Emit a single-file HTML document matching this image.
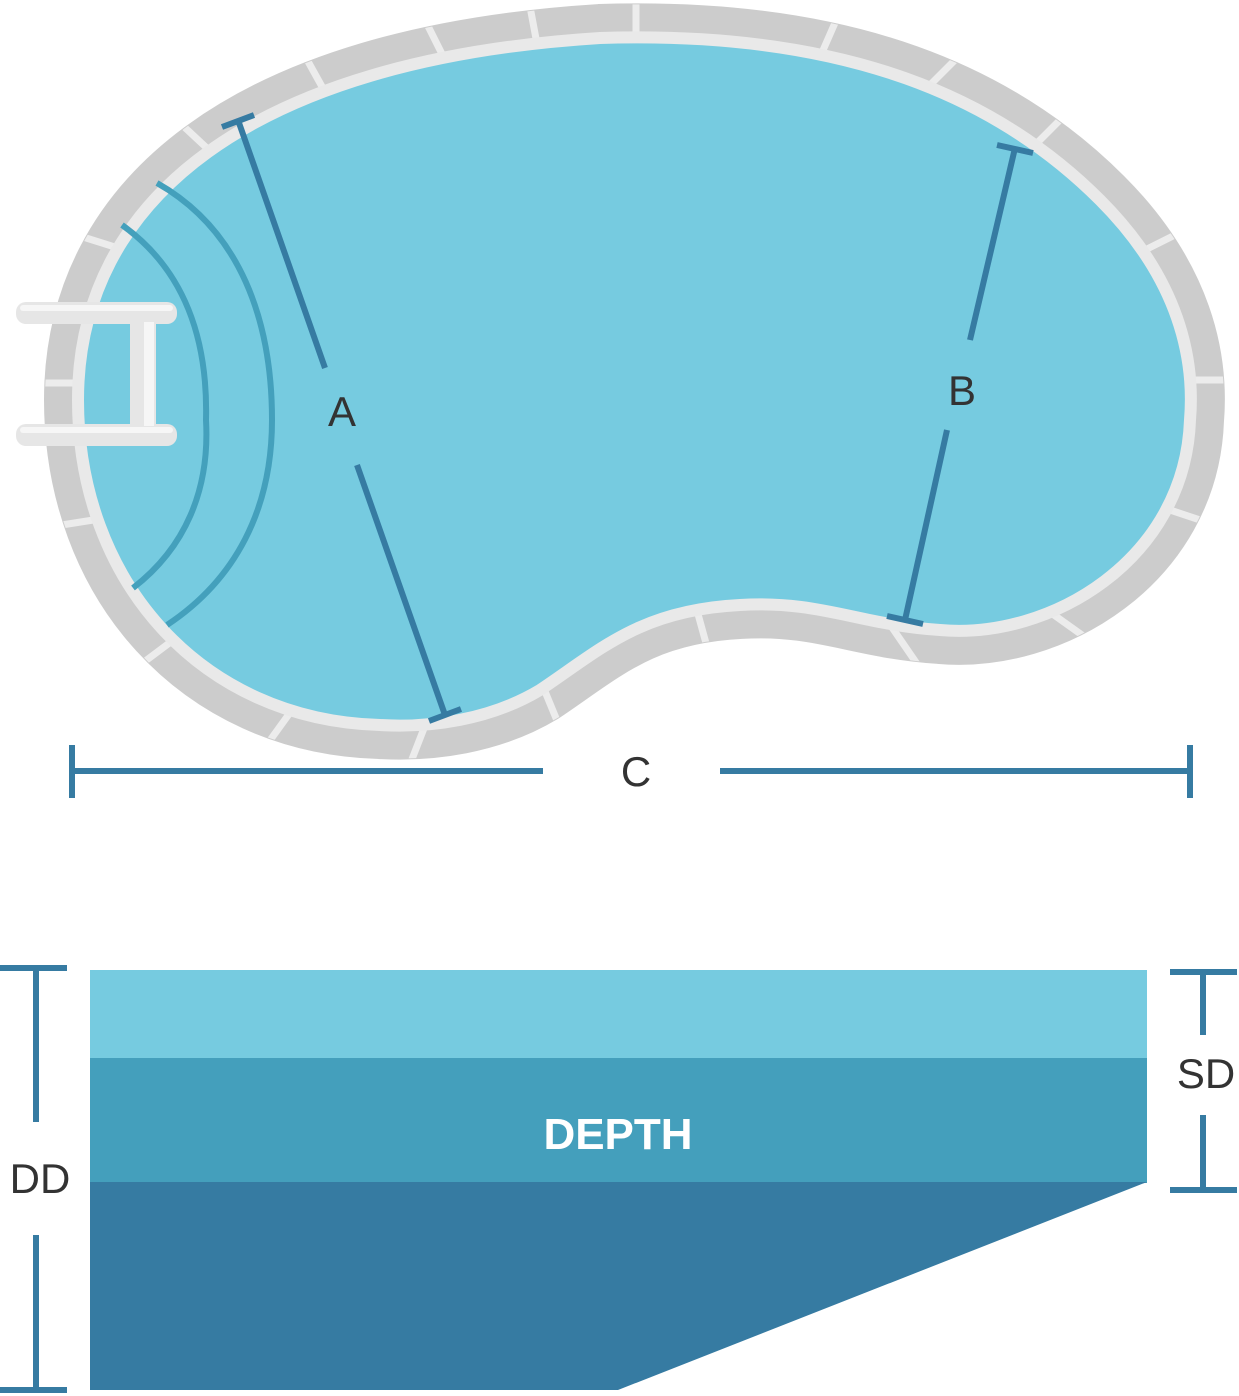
<!DOCTYPE html>
<html><head><meta charset="utf-8"><style>html,body{margin:0;padding:0;background:#fff}svg{display:block}</style></head><body>
<svg width="1239" height="1396" viewBox="0 0 1239 1396" xmlns="http://www.w3.org/2000/svg">
<defs>
<path id="pool" d="M 78 400 C 78 200, 250 60, 600 38 C 850 30, 1000 100, 1100 200 C 1180 280, 1195 360, 1190 420 C 1185 560, 1050 640, 940 630 C 860 625, 820 600, 740 605 C 640 610, 600 650, 540 690 C 490 720, 430 728, 380 725 C 200 720, 78 580, 78 400 Z"/>
<mask id="band" maskUnits="userSpaceOnUse" x="0" y="0" width="1239" height="1396">
<use href="#pool" fill="none" stroke="#fff" stroke-width="66"/>
</mask>
</defs>
<use href="#pool" fill="none" stroke="#cccccc" stroke-width="68"/>
<g stroke="#ececec" stroke-width="7" mask="url(#band)">
<line x1="410" y1="-10" x2="445" y2="60"/><line x1="525" y1="-20" x2="540" y2="60"/><line x1="636" y1="-20" x2="636" y2="60"/>
<line x1="845" y1="0" x2="810" y2="80"/><line x1="965" y1="50" x2="900" y2="115"/><line x1="1070" y1="110" x2="1005" y2="175"/>
<line x1="1195" y1="225" x2="1105" y2="270"/><line x1="1239" y1="380" x2="1160" y2="380"/><line x1="1230" y1="530" x2="1140" y2="500"/>
<line x1="1110" y1="655" x2="1040" y2="605"/><line x1="935" y1="690" x2="880" y2="610"/><line x1="712" y1="665" x2="690" y2="585"/>
<line x1="565" y1="740" x2="530" y2="655"/><line x1="400" y1="790" x2="435" y2="700"/><line x1="245" y1="775" x2="310" y2="685"/>
<line x1="120" y1="680" x2="200" y2="620"/><line x1="30" y1="530" x2="125" y2="515"/><line x1="10" y1="383" x2="110" y2="383"/>
<line x1="45" y1="225" x2="140" y2="255"/><line x1="150" y1="95" x2="225" y2="165"/><line x1="285" y1="20" x2="335" y2="110"/>
</g>
<use href="#pool" fill="#76cbe0"/>
<use href="#pool" fill="none" stroke="#e9e9e9" stroke-width="12"/>
<g fill="none" stroke="#44a0bc" stroke-width="6">
<path d="M 122 225 C 185 270, 208 340, 206 420 C 210 490, 185 548, 133 588"/>
<path d="M 157 183 C 240 230, 272 320, 272 420 C 272 510, 235 580, 167 625"/>
</g>
<rect x="16" y="302" width="161" height="22" rx="10" fill="#e6e6e6"/>
<rect x="16" y="424" width="161" height="22" rx="10" fill="#e6e6e6"/>
<rect x="130" y="322" width="26" height="104" fill="#e6e6e6"/>
<rect x="144" y="322" width="10" height="104" fill="#f6f6f6"/>
<rect x="20" y="305" width="153" height="6" rx="3" fill="#f6f6f6"/>
<rect x="20" y="427" width="153" height="6" rx="3" fill="#f6f6f6"/>
<g stroke="#367ba2" stroke-width="6" fill="none">
<line x1="238" y1="120" x2="325" y2="368"/><line x1="357" y1="465" x2="445" y2="715"/>
<line x1="222" y1="127" x2="254" y2="115"/><line x1="429" y1="721" x2="461" y2="709"/>
<line x1="1015" y1="148" x2="970" y2="340"/><line x1="947" y1="430" x2="905" y2="620"/>
<line x1="997" y1="145" x2="1033" y2="153"/><line x1="887" y1="616" x2="923" y2="624"/>
<line x1="72" y1="771" x2="543" y2="771"/><line x1="720" y1="771" x2="1190" y2="771"/>
<line x1="72" y1="745" x2="72" y2="798"/><line x1="1190" y1="745" x2="1190" y2="798"/>
<line x1="36" y1="968" x2="36" y2="1122"/><line x1="36" y1="1235" x2="36" y2="1390"/>
<line x1="0" y1="968" x2="67" y2="968"/><line x1="0" y1="1390" x2="67" y2="1390"/>
<line x1="1170" y1="972" x2="1237" y2="972"/><line x1="1170" y1="1190" x2="1237" y2="1190"/>
<line x1="1203" y1="972" x2="1203" y2="1035"/><line x1="1203" y1="1115" x2="1203" y2="1190"/>
</g>
<g font-family="Liberation Sans, sans-serif" fill="#333" font-size="42" text-anchor="middle">
<text x="342" y="426">A</text><text x="962" y="405">B</text><text x="636" y="786">C</text>
<text x="40" y="1193">DD</text><text x="1206" y="1088">SD</text>
</g>
<rect x="90" y="970" width="1057" height="89" fill="#76cbe0"/>
<rect x="90" y="1058" width="1057" height="125" fill="#449fbc"/>
<polygon points="90,1182 1147,1182 618,1390 90,1390" fill="#367ba2"/>
<text x="618" y="1149" font-family="Liberation Sans, sans-serif" font-weight="bold" font-size="44" fill="#fff" text-anchor="middle">DEPTH</text>
</svg>
</body></html>
